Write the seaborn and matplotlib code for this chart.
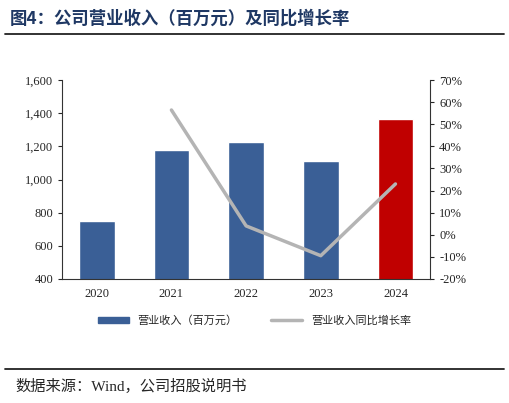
import seaborn as sns
import matplotlib.pyplot as plt
import pandas as pd
from matplotlib.lines import Line2D
from matplotlib.patches import Patch

years = ["2020", "2021", "2022", "2023", "2024"]
revenue = [750, 1180, 1225, 1110, 1365]
growth = [None, 56.5, 4.0, -9.5, 23.0]

sns.set_style("white")
plt.rcParams["font.family"] = ["Liberation Serif", "Noto Sans CJK SC"]
plt.rcParams["axes.unicode_minus"] = False

df = pd.DataFrame({"year": years, "revenue": revenue, "growth": growth})

fig = plt.figure(figsize=(5.09, 4.03), dpi=100)
ax = fig.add_axes([0.122, 0.308, 0.723, 0.493])
colors = ["#3a5f96"] * 4 + ["#c00000"]
sns.barplot(data=df, x="year", y="revenue", hue="year", palette=colors,
            legend=False, width=0.48, saturation=1, ax=ax)
ax.set_ylim(400, 1600)
ax.set_yticks(range(400, 1601, 200))
ax.set_yticklabels([f"{v:,}" for v in range(400, 1601, 200)])
ax.set_xlabel("")
ax.set_ylabel("")
for s in ["top", "right"]:
    ax.spines[s].set_visible(False)
for s in ["left", "bottom"]:
    ax.spines[s].set_color("#333333")
ax.tick_params(axis="both", labelsize=9, length=3, direction="out", left=True, bottom=False)

ax2 = ax.twinx()
sub = df.dropna()
ax2.plot(sub["year"], sub["growth"], color="#b4b4b4", lw=2.5)
ax2.set_ylim(-20, 70)
ax2.set_yticks(range(-20, 71, 10))
ax2.set_yticklabels([f"{v}%" for v in range(-20, 71, 10)])
for s in ["top", "left", "bottom"]:
    ax2.spines[s].set_visible(False)
ax2.spines["right"].set_color("#333333")
ax2.tick_params(axis="y", labelsize=9, length=3, right=True)

handles = [Patch(color="#3a5f96"), Line2D([], [], color="#b4b4b4", lw=2.5)]
fig.legend(handles, ["营业收入（百万元）", "营业收入同比增长率"], loc="center",
           bbox_to_anchor=(0.5, 0.205), ncol=2, frameon=False,
           handlelength=2.8, handleheight=0.5, columnspacing=3,
           prop={"family": ["Noto Sans CJK SC"], "size": 8})

fig.text(0.02, 0.955, "图4：公司营业收入（百万元）及同比增长率", fontsize=12.5,
         fontweight="bold", color="#1f3864", va="center",
         family=["Noto Sans CJK SC"])
fig.add_artist(Line2D([0.01, 0.99], [0.916, 0.916], color="#222222", lw=1.3))
fig.add_artist(Line2D([0.01, 0.99], [0.085, 0.085], color="#222222", lw=1.3))
fig.text(0.03, 0.04, "数据来源：Wind，公司招股说明书", fontsize=11, va="center",
         family=["Liberation Serif", "Noto Sans CJK SC"])

fig.savefig("out.png", dpi=100)
